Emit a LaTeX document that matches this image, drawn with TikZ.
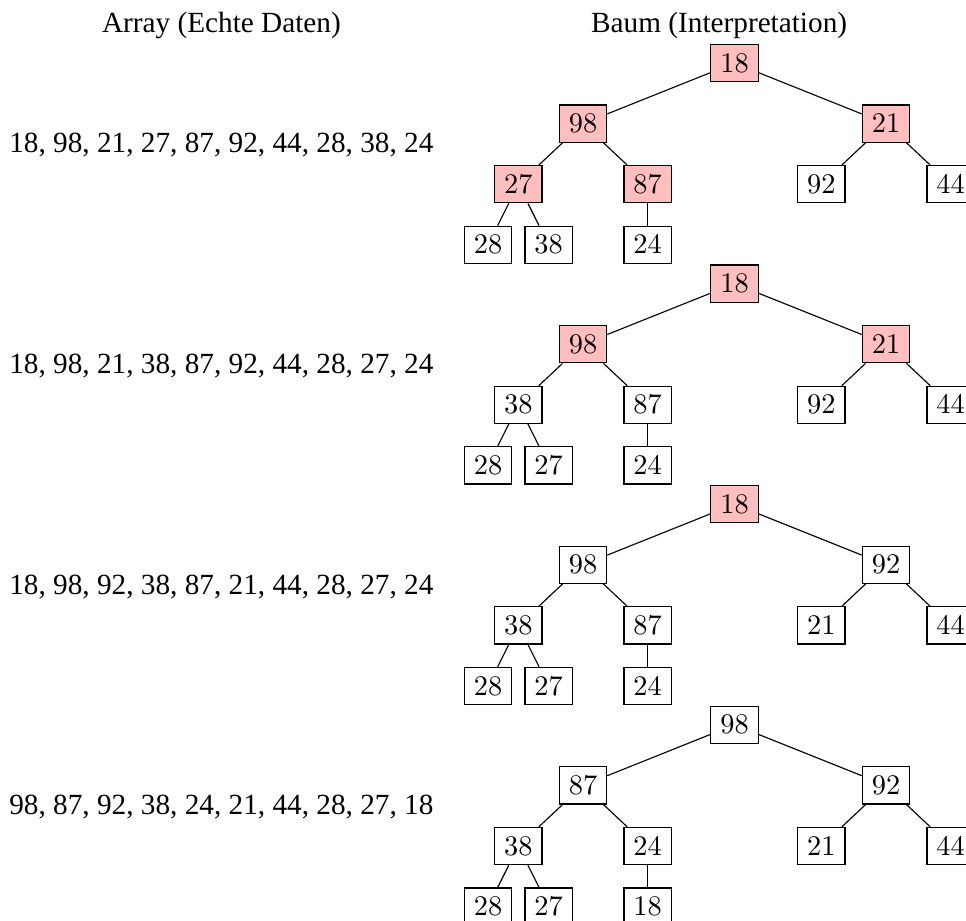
\documentclass[tikz,border=0pt]{standalone}
\usepackage{fontspec}
\setmainfont{Liberation Serif}

\colorlet{swapred}{red!25}
\tikzset{
  heapnode/.style={draw=black, fill=#1},
  heapedge/.style={black},
  label text/.style={font=\fontsize{10.3pt}{12pt}\selectfont},
}

\begin{document}
\begin{tikzpicture}

% FRAME
  \clip (0, 0) rectangle (11.955, -11.386);

% TITLES
  \node[label text] (arraytitle) at (2.74, -0.31) {Array (Echte Daten)};
  \node[label text] (treetitle)  at (8.90, -0.31) {Baum (Interpretation)};

% HEAP STEPS (row / marked nodes / array)
  \foreach \row/\nmark/\vals in {1/5/{18, 98, 21, 27, 87, 92, 44, 28, 38, 24},
                                 2/3/{18, 98, 21, 38, 87, 92, 44, 28, 27, 24},
                                 3/1/{18, 98, 92, 38, 87, 21, 44, 28, 27, 24},
                                 4/0/{98, 87, 92, 38, 24, 21, 44, 28, 27, 18}}
  {
    \pgfmathsetmacro{\ry}{-0.78-(\row-1)*2.73}

    % array as text
    \node[label text] (array\row) at (2.74, \ry-1.02) {\vals};

    % tree nodes
    \foreach \v [count=\i] in \vals
    {
      \pgfmathsetmacro{\dx}{{0,-1.875,1.875,-2.675,-1.075,1.075,2.675,-3.05,-2.3,-1.075}[\i-1]}
      \pgfmathsetmacro{\dy}{{0,-0.75,-0.75,-1.5,-1.5,-1.5,-1.5,-2.25,-2.25,-2.25}[\i-1]}
      \ifnum\i>\nmark \def\shade{white}\else \def\shade{swapred}\fi
      \node[heapnode=\shade] (t\row-\i) at (9.09+\dx, \ry+\dy) {$\v$};
    }

    % tree edges
    \foreach \a/\b in {1/2, 1/3, 2/4, 2/5, 3/6, 3/7, 4/8, 4/9, 5/10}
      \draw[heapedge] (t\row-\a) -- (t\row-\b);
  }

\end{tikzpicture}
\end{document}
